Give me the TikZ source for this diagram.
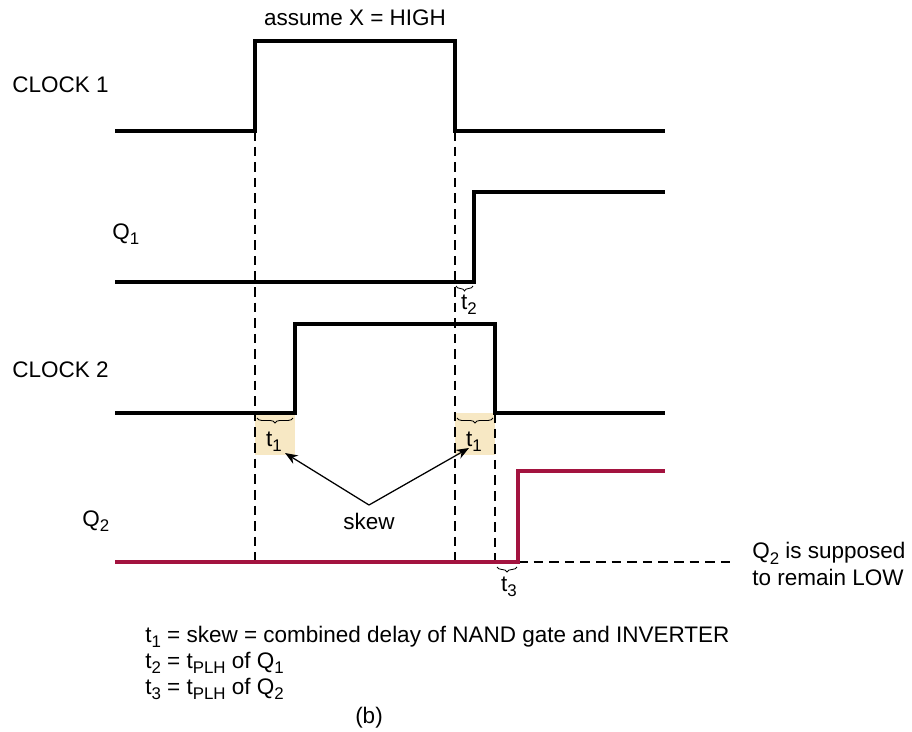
\documentclass[tikz,border=0pt]{standalone}
\usepackage{fontspec}
\setmainfont{Liberation Sans}
\usepackage{xcolor}
\usepackage{tikz}
\usetikzlibrary{arrows.meta, positioning, decorations.pathreplacing}

\definecolor{wavered}{HTML}{A3133F}
\definecolor{skewtan}{HTML}{F7E8C4}
\newcommand{\lowsub}[1]{\raisebox{-0.45ex}{\fontsize{12}{13}\selectfont #1}}

\begin{document}
\begin{tikzpicture}[
            x=0.025cm, y=-0.025cm,
            font=\fontsize{16}{19}\selectfont,
            wave/.style={line width=2.2pt, line join=miter},
            guide/.style={dash pattern=on 0.24cm off 0.15cm, line width=0.75pt},
            skewbox/.style={rectangle, fill=skewtan, inner sep=0pt, minimum width=1cm, minimum height=1.05cm},
            tbrace/.style={decorate, decoration={brace, mirror, amplitude=3.5pt}, line width=0.6pt},
            label/.style={anchor=west, inner sep=0pt},
            arrow/.style={-{Stealth[length=9pt, width=7pt]}, line width=0.9pt}
        ]
            \useasboundingbox (0,0) rectangle (912,731);

            % shaded skew intervals
            \node[skewbox, anchor=north west] (t1a) at (255,413) {};
            \node[skewbox, anchor=north west] (t1b) at (455,413) {};

            % dashed guides
            \draw[guide] (255,131) -- (255,562);
            \draw[guide] (455,131) -- (455,562);
            \draw[guide] (495,413) -- (495,562);
            \draw[guide] (518,562) -- (735,562);

            % waveforms
            \draw[wave] (115,131) -- (255,131) -- (255,41) -- (455,41) -- (455,131) -- (665,131);
            \draw[wave] (115,282) -- (474,282) -- (474,192) -- (665,192);
            \draw[wave] (115,413) -- (295,413) -- (295,324) -- (495,324) -- (495,413) -- (665,413);
            \draw[wave, wavered] (115,562) -- (518,562) -- (518,471) -- (665,471);

            % signal names
            \node[label] (clk1) at (12,85)  {CLOCK 1};
            \node[label] (q1)   at (112,234) {Q\lowsub{1}};
            \node[label] (clk2) at (12,370) {CLOCK 2};
            \node[label] (q2)   at (82,521) {Q\lowsub{2}};
            \node (assume) at (355,18) {assume X = HIGH};

            % delay braces
            \draw[tbrace] (257,418) -- (293,418);
            \node (t1l) at (274,442) {t\lowsub{1}};
            \draw[tbrace] (457,418) -- (493,418);
            \node (t1r) at (474,442) {t\lowsub{1}};
            \draw[tbrace] (456,286) -- (473,286);
            \node (t2) at (469,305) {t\lowsub{2}};
            \draw[tbrace] (497,567) -- (517,567);
            \node (t3) at (509,587) {t\lowsub{3}};

            % skew pointers
            \node (skew) at (369,521) {skew};
            \coordinate (apex) at (369,505);
            \draw[arrow] (apex) -- (285,453);
            \draw[arrow] (apex) -- (469,448);

            % note on Q2
            \node[label, align=left] (note) at (752,564) {Q\lowsub{2} is supposed\\to remain LOW};

            % legend
            \node[label] (leg1) at (145,637) {t\lowsub{1} = skew = combined delay of NAND gate and INVERTER};
            \node[label] (leg2) at (145,663) {t\lowsub{2} = t\lowsub{PLH} of Q\lowsub{1}};
            \node[label] (leg3) at (145,689) {t\lowsub{3} = t\lowsub{PLH} of Q\lowsub{2}};
            \node (cap) at (369,718) {(b)};
        \end{tikzpicture}
\end{document}
